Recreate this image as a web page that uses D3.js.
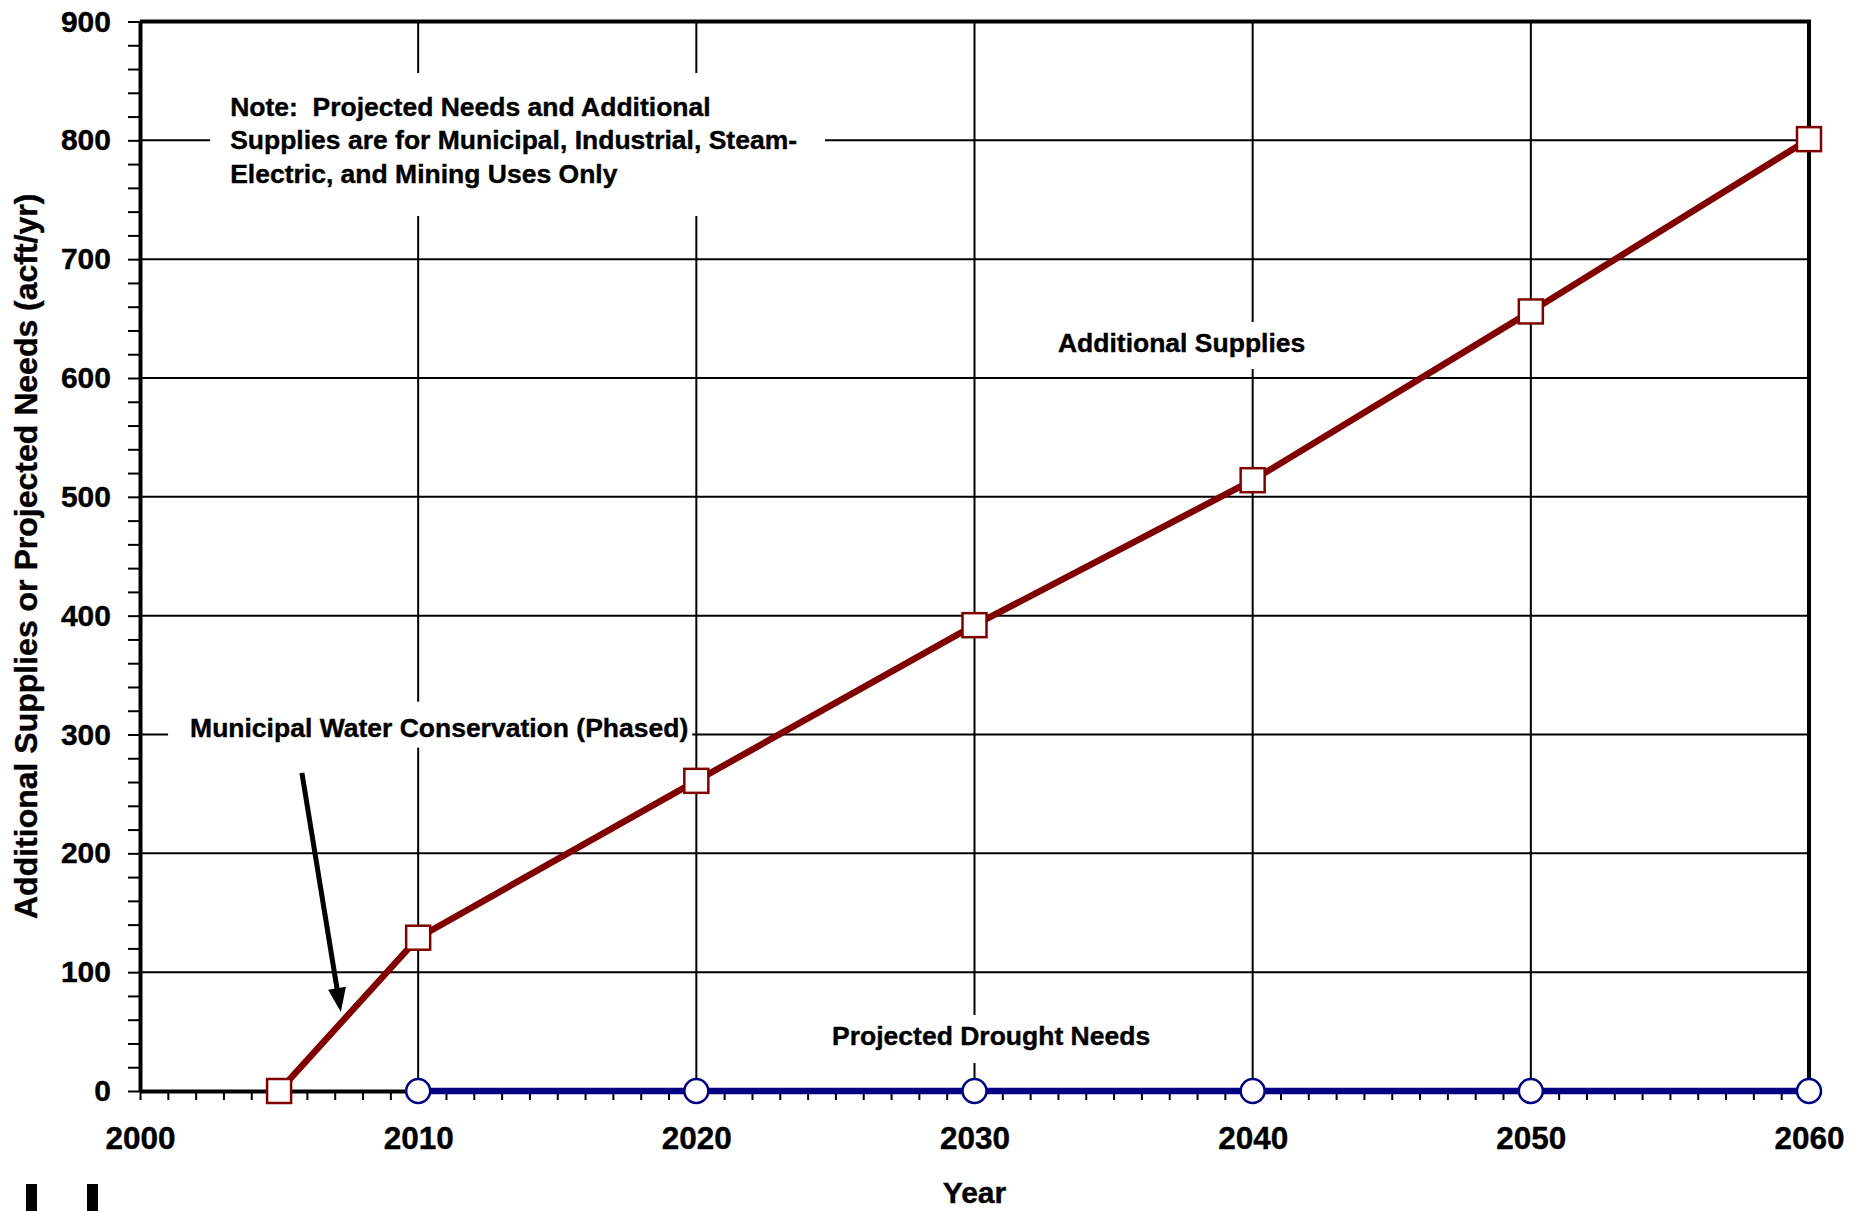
<!DOCTYPE html>
<meta charset="utf-8">
<style>
  body { margin: 0; background: #fff; }
  text { font-family: "Liberation Sans", Arial, sans-serif; font-weight: bold; fill: #000; stroke: #000; stroke-width: 0.4; white-space: pre; }
  .grid line { stroke: #000; stroke-width: 2; }
  .axis .domain { stroke: #000; stroke-width: 4; }
  .axis .tick line { stroke: #000; stroke-width: 2; }
</style>
<body>
<script src="https://cdn.jsdelivr.net/npm/d3@7"></script>
<script>

  var supplyYears = [2005, 2010, 2020, 2030, 2040, 2050, 2060];
  var supplyValues = [0, 129, 261, 392, 514, 656, 801];
  var needYears = [2010, 2020, 2030, 2040, 2050, 2060];
  var needValues = [0, 0, 0, 0, 0, 0];
  var xLabels = [2000, 2010, 2020, 2030, 2040, 2050, 2060];
  var yLabels = [0, 100, 200, 300, 400, 500, 600, 700, 800, 900];

  var margin = { top: 21.5, right: 61, bottom: 120, left: 140 },
    width = 1870 - margin.left - margin.right,
    height = 1211 - margin.top - margin.bottom;

  var x = d3.scaleLinear().domain([2000, 2060]).range([0, width]);
  var y = d3.scaleLinear().domain([0, 900]).range([height, 0]);

  var root = d3.select("body").append("svg")
    .attr("width", 1870)
    .attr("height", 1211)
    .style("display", "block");

  root.append("rect").attr("width", 1870).attr("height", 1211).attr("fill", "#fff");

  var svg = root.append("g")
    .attr("transform", "translate(" + margin.left + "," + margin.top + ")");

  // grid
  var grid = svg.append("g").attr("class", "grid");
  grid.selectAll(".gx").data(xLabels.slice(1, -1)).enter().append("line")
    .attr("x1", d => x(d)).attr("x2", d => x(d))
    .attr("y1", 0).attr("y2", height);
  grid.selectAll(".gy").data(yLabels.slice(1, -1)).enter().append("line")
    .attr("x1", 0).attr("x2", width)
    .attr("y1", d => y(d)).attr("y2", d => y(d));

  // annotations (white boxes knock out grid)
  var notes = [
    { lines: ["Note:  Projected Needs and Additional", "Supplies are for Municipal, Industrial, Steam-", "Electric, and Mining Uses Only"],
      year: 2003.24, value: 820.5, pad: [19, 28, 27, 20] },
    { lines: ["Municipal Water Conservation (Phased)"], year: 2001.8, value: 298.2, pad: [11, 4, 5, 22] },
    { lines: ["Additional Supplies"], year: 2033.0, value: 621.9, pad: [6, 20, 11, 20] },
    { lines: ["Projected Drought Needs"], year: 2024.88, value: 38.7, pad: [6, 20, 12, 20] }
  ];

  notes.forEach(function (n) {
    var g = svg.append("g");
    var rect = g.append("rect").attr("fill", "#fff");
    var t = g.append("text").style("font-size", "26.5px");
    n.lines.forEach(function (s, i) {
      t.append("tspan").attr("x", x(n.year)).attr("y", y(n.value) + i * 33.5).text(s);
    });
    var b = t.node().getBBox();
    rect.attr("x", b.x - n.pad[3]).attr("y", b.y - n.pad[0])
      .attr("width", b.width + n.pad[1] + n.pad[3])
      .attr("height", b.height + n.pad[0] + n.pad[2]);
  });

  // arrow
  var a0 = [x(2005.82), y(267.7)], a1 = [x(2007.22), y(66.5)];
  var dx = a1[0] - a0[0], dy = a1[1] - a0[1], len = Math.sqrt(dx * dx + dy * dy);
  var ux = dx / len, uy = dy / len, headL = 24, headW = 9;
  var bx = a1[0] - ux * headL, by = a1[1] - uy * headL;
  svg.append("line")
    .attr("x1", a0[0]).attr("y1", a0[1]).attr("x2", bx + ux * 2).attr("y2", by + uy * 2)
    .attr("stroke", "#000").attr("stroke-width", 5);
  svg.append("path")
    .attr("d", "M" + a1[0] + "," + a1[1] +
      "L" + (bx - uy * headW) + "," + (by + ux * headW) +
      "L" + (bx + uy * headW) + "," + (by - ux * headW) + "Z")
    .attr("fill", "#000");

  // axes
  var yAxis = d3.axisLeft(y)
    .tickValues(d3.range(0, 901, 20))
    .tickSize(12)
    .tickSizeOuter(0)
    .tickPadding(17)
    .tickFormat(d => (d % 100 === 0 ? d : ""));
  svg.append("g").attr("class", "axis").call(yAxis)
    .selectAll("text").style("font-size", "30px");

  var xAxis = d3.axisBottom(x)
    .tickValues(d3.range(2000, 2061, 1))
    .tickSize(9)
    .tickSizeOuter(0)
    .tickPadding(27)
    .tickFormat(d => (d % 10 === 0 ? d : ""));
  svg.append("g").attr("class", "axis")
    .attr("transform", "translate(0," + height + ")")
    .call(xAxis)
    .selectAll("text").style("font-size", "31.5px");

  // top and right border
  svg.append("path")
    .attr("d", "M0,0H" + width + "V" + height)
    .attr("fill", "none").attr("stroke", "#000").attr("stroke-width", 4);

  // series
  var line = d3.line().x(d => x(d[0])).y(d => y(d[1]));

  var needs = d3.zip(needYears, needValues);
  svg.append("path").datum(needs)
    .attr("d", line).attr("fill", "none")
    .attr("stroke", "#000080").attr("stroke-width", 6.5);

  var supplies = d3.zip(supplyYears, supplyValues);
  svg.append("path").datum(supplies)
    .attr("d", line).attr("fill", "none")
    .attr("stroke", "#800000").attr("stroke-width", 6.5);

  svg.selectAll(".sq").data(supplies).enter().append("rect")
    .attr("x", d => x(d[0]) - 12).attr("y", d => y(d[1]) - 12)
    .attr("width", 24).attr("height", 24)
    .attr("fill", "#fff").attr("stroke", "#800000").attr("stroke-width", 2.5);

  svg.selectAll(".ci").data(needs).enter().append("circle")
    .attr("cx", d => x(d[0])).attr("cy", d => y(d[1])).attr("r", 12)
    .attr("fill", "#fff").attr("stroke", "#000080").attr("stroke-width", 2.5);

  // axis titles
  svg.append("text")
    .attr("x", width / 2).attr("y", height + 112)
    .attr("text-anchor", "middle")
    .style("font-size", "30px")
    .text("Year");

  svg.append("text")
    .attr("transform", "translate(" + (26 - margin.left) + "," + (height / 2) + ") rotate(-90)")
    .attr("text-anchor", "middle")
    .attr("dy", "0.35em")
    .style("font-size", "32px")
    .text("Additional Supplies or Projected Needs (acft/yr)");

  // cut-off marks at bottom left
  root.selectAll(".cut").data([26, 87]).enter().append("rect")
    .attr("x", d => d).attr("y", 1184).attr("width", 11).attr("height", 27)
    .attr("fill", "#000");

</script>
